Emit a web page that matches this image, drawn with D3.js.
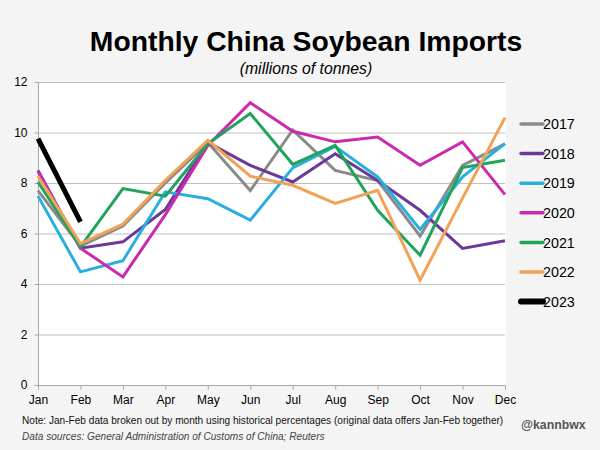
<!DOCTYPE html>
<html>
<head>
<meta charset="utf-8">
<script src="https://cdn.jsdelivr.net/npm/d3@7"></script>
<style>
  body { margin: 0; background: #f4f4f4; }
  svg { display: block; font-family: "Liberation Sans", Arial, sans-serif; }
  .grid line { stroke: #c0c0c0; stroke-width: 1; }
  .axis path, .axis line { stroke: #a6a6a6; }
  .axis text { fill: #000; font-size: 12px; }
</style>
</head>
<body>
<div id="chart"></div>
<script>
// data (millions of tonnes)
const months = ["Jan", "Feb", "Mar", "Apr", "May", "Jun", "Jul", "Aug", "Sep", "Oct", "Nov", "Dec"];
const years = ["2017", "2018", "2019", "2020", "2021", "2022", "2023"];
const yTicks = [0, 2, 4, 6, 8, 10, 12];

const v2017 = [7.7, 5.5, 6.3, 8.0, 9.6, 7.7, 10.1, 8.5, 8.1, 5.9, 8.7, 9.55];
const v2018 = [8.5, 5.42, 5.67, 6.95, 9.6, 8.7, 8.04, 9.16, 8.1, 6.92, 5.41, 5.71];
const v2019 = [7.48, 4.48, 4.92, 7.65, 7.38, 6.53, 8.6, 9.45, 8.24, 6.16, 8.24, 9.56];
const v2020 = [8.45, 5.42, 4.28, 6.75, 9.49, 11.18, 10.05, 9.63, 9.82, 8.7, 9.63, 7.54];
const v2021 = [8.04, 5.47, 7.78, 7.48, 9.55, 10.75, 8.74, 9.49, 6.92, 5.14, 8.61, 8.9];
const v2022 = [8.27, 5.6, 6.37, 8.11, 9.69, 8.27, 7.91, 7.19, 7.71, 4.15, 7.4, 10.59];
const v2023 = [9.76, 6.46];

const colors = ["#8a8a8a", "#6a3a96", "#2aaee0", "#cc2aae", "#20a35c", "#f2a257", "#000000"];
const widths = [3, 3, 3, 3, 3, 3, 5];

const series = years.map((y, i) => ({
   key: y,
   color: colors[i],
   width: widths[i],
   values: [v2017, v2018, v2019, v2020, v2021, v2022, v2023][i]
}));

const width = 600, height = 450;
const margins = { top: 82, left: 38, right: 95, bottom: 65 };

const svg = d3.select("#chart").append("svg")
   .attr("width", width)
   .attr("height", height);

svg.append("rect")
   .attr("width", width)
   .attr("height", height)
   .attr("fill", "#f4f4f4");

const x = d3.scalePoint()
   .domain(months)
   .range([margins.left, width - margins.right]);

const y = d3.scaleLinear()
   .domain([0, 12])
   .range([height - margins.bottom, margins.top]);

// plot background
svg.append("rect")
   .attr("x", x.range()[0])
   .attr("y", y(12))
   .attr("width", x.range()[1] - x.range()[0] + 1)
   .attr("height", y(0) - y(12))
   .attr("fill", "#ffffff");

// gridlines
svg.append("g")
   .attr("class", "grid")
   .selectAll("line")
   .data(yTicks.filter(d => d > 0))
 .enter().append("line")
   .attr("x1", x.range()[0])
   .attr("x2", x.range()[1])
   .attr("y1", d => y(d) + 0.5)
   .attr("y2", d => y(d) + 0.5);

// axes
svg.append("g")
   .attr("class", "axis")
   .attr("transform", "translate(" + (margins.left + 0.5) + ",0)")
   .call(d3.axisLeft(y).tickValues(yTicks).tickSize(4).tickPadding(7))
   .call(g => g.select(".domain").attr("d", "M0," + y(12) + "V" + y(0)));

svg.append("g")
   .attr("class", "axis")
   .attr("transform", "translate(0," + (y(0) + 0.5) + ")")
   .call(d3.axisBottom(x).tickSize(4).tickPadding(6).tickSizeOuter(0))
   .call(g => g.select(".domain").attr("d", "M" + x.range()[0] + ",0H" + x.range()[1]));

// lines
const line = d3.line()
   .x((d, i) => x(months[i]))
   .y(d => y(d));

svg.append("g")
   .selectAll("path")
   .data(series)
 .enter().append("path")
   .attr("fill", "none")
   .attr("stroke", d => d.color)
   .attr("stroke-width", d => d.width)
   .attr("stroke-linejoin", "miter")
   .attr("d", d => line(d.values));

// legend
const legend = svg.append("g")
   .selectAll("g")
   .data(series)
 .enter().append("g")
   .attr("transform", (d, i) => "translate(521," + (124 + i * 29.6) + ")");

legend.append("line")
   .attr("x1", 0)
   .attr("x2", 22)
   .attr("stroke", d => d.color)
   .attr("stroke-width", d => d.width === 5 ? 6 : 3.5)
   .attr("stroke-linecap", "round");

legend.append("text")
   .attr("x", 22)
   .attr("dy", "0.36em")
   .attr("font-size", 14.3)
   .attr("fill", "#000")
   .text(d => d.key);

// titles
svg.append("text")
   .attr("x", 306)
   .attr("y", 51)
   .attr("text-anchor", "middle")
   .attr("font-size", 28.3)
   .attr("font-weight", "bold")
   .text("Monthly China Soybean Imports");

svg.append("text")
   .attr("x", 306)
   .attr("y", 74)
   .attr("text-anchor", "middle")
   .attr("font-size", 15.8)
   .attr("font-style", "italic")
   .text("(millions of tonnes)");

// footer
svg.append("text")
   .attr("x", 22)
   .attr("y", 423.5)
   .attr("font-size", 10.1)
   .attr("fill", "#111")
   .text("Note: Jan-Feb data broken out by month using historical percentages (original data offers Jan-Feb together)");

svg.append("text")
   .attr("x", 22)
   .attr("y", 440)
   .attr("font-size", 10.1)
   .attr("font-style", "italic")
   .attr("fill", "#444")
   .text("Data sources: General Administration of Customs of China; Reuters");

svg.append("text")
   .attr("x", 521)
   .attr("y", 428.5)
   .attr("font-size", 12.3)
   .attr("font-weight", "bold")
   .attr("fill", "#555")
   .text("@kannbwx");
</script>
</body>
</html>
